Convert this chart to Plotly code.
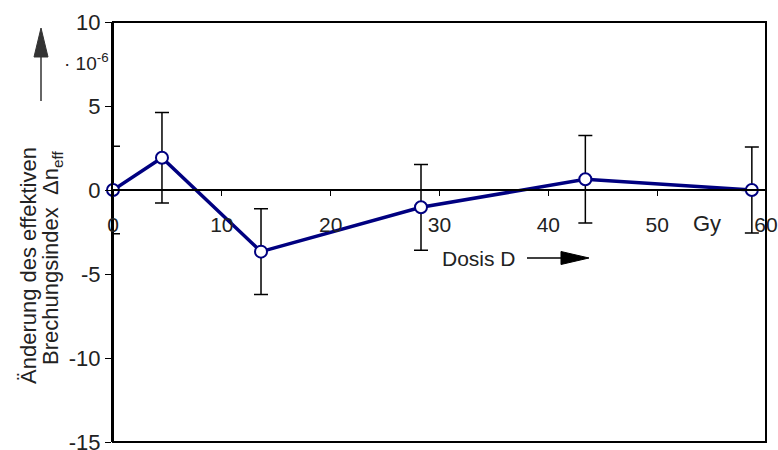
import plotly.graph_objects as go

dose = [0, 4.5, 13.6, 28.3, 43.4, 58.7]
delta_n = [0.0, 1.92, -3.67, -1.03, 0.64, 0.0]
err = [2.6, 2.7, 2.55, 2.55, 2.6, 2.56]
x_ticks = [0, 10, 20, 30, 40, 50, 60]
y_ticks = [-15, -10, -5, 0, 5, 10]

FONT = "Liberation Sans, Arial, sans-serif"
NAVY = "#000080"
TXT = "#222"

W, H = 778, 450
L, R, T, B = 113, 12, 22, 8
PW, PH = W - L - R, H - T - B


def px(x):
    return (x - L) / PW


def py(y):
    return (H - B - y) / PH


fig = go.Figure()
fig.add_trace(go.Scatter(
    x=dose, y=delta_n, mode="lines+markers",
    line=dict(color=NAVY, width=3.5),
    marker=dict(size=12, color="white", line=dict(color=NAVY, width=2)),
    error_y=dict(type="data", array=err, visible=True, color="black",
                 thickness=1.5, width=7),
    showlegend=False, cliponaxis=False, hoverinfo="skip",
))


def note(x, y, text, size, angle=0, xanchor="center"):
    return dict(xref="paper", yref="paper", x=px(x), y=py(y), text=text,
                textangle=angle, showarrow=False, xanchor=xanchor, yanchor="middle",
                font=dict(size=size, color=TXT, family=FONT))


ann = [
    note(28, 265, "Änderung des effektiven", 22, -90),
    note(52, 258, "Brechungsindex  Δn<sub>eff</sub>", 22, -90),
    note(111, 62, "· 10<sup>-6</sup>", 19, 0, "right"),
    note(479, 258, "Dosis D", 21),
    note(707, 224, "Gy", 22),
]


def tri(pts):
    return "M " + " L ".join(f"{px(a):.5f},{py(b):.5f}" for a, b in pts) + " Z"


shapes = [
    dict(type="rect", xref="paper", yref="paper", x0=0, y0=0, x1=1, y1=1,
         line=dict(color="black", width=2), layer="below"),
    dict(type="line", xref="paper", yref="paper", x0=px(41), y0=py(101), x1=px(41), y1=py(52),
         line=dict(color="#333", width=1.5)),
    dict(type="path", xref="paper", yref="paper", path=tri([(41, 28), (34, 57), (48, 57)]),
         fillcolor="#333", line=dict(color="#333", width=1)),
    dict(type="line", xref="paper", yref="paper", x0=px(527), y0=py(258), x1=px(566), y1=py(258),
         line=dict(color="black", width=1.5)),
    dict(type="path", xref="paper", yref="paper", path=tri([(589, 258), (561, 251.5), (561, 264.5)]),
         fillcolor="black", line=dict(color="black", width=1)),
]

fig.update_layout(
    width=W, height=H,
    margin=dict(l=L, r=R, t=T, b=B, autoexpand=False),
    paper_bgcolor="white", plot_bgcolor="white",
    font=dict(family=FONT, size=21, color=TXT),
    hovermode=False,
    xaxis=dict(range=[0, 60], tickvals=x_ticks, ticktext=[str(v) for v in x_ticks],
               showgrid=False, zeroline=False, showline=True, linecolor="black",
               linewidth=1.5, ticks="outside", ticklen=5, tickcolor="black",
               anchor="free", position=15 / 25, ticklabelstandoff=11,
               ticklabeloverflow="allow", automargin=False, tickfont=dict(size=21)),
    yaxis=dict(range=[-15, 10], tickvals=y_ticks, ticktext=[str(v) for v in y_ticks],
               showgrid=False, zeroline=False, showline=True, linecolor="black",
               linewidth=2, ticks="outside", ticklen=6, tickcolor="black",
               ticklabeloverflow="allow", automargin=False, tickfont=dict(size=22)),
    annotations=ann,
    shapes=shapes,
)

fig.write_html("out.html", config={"displayModeBar": False},
               post_script="document.body.style.margin='0';")
